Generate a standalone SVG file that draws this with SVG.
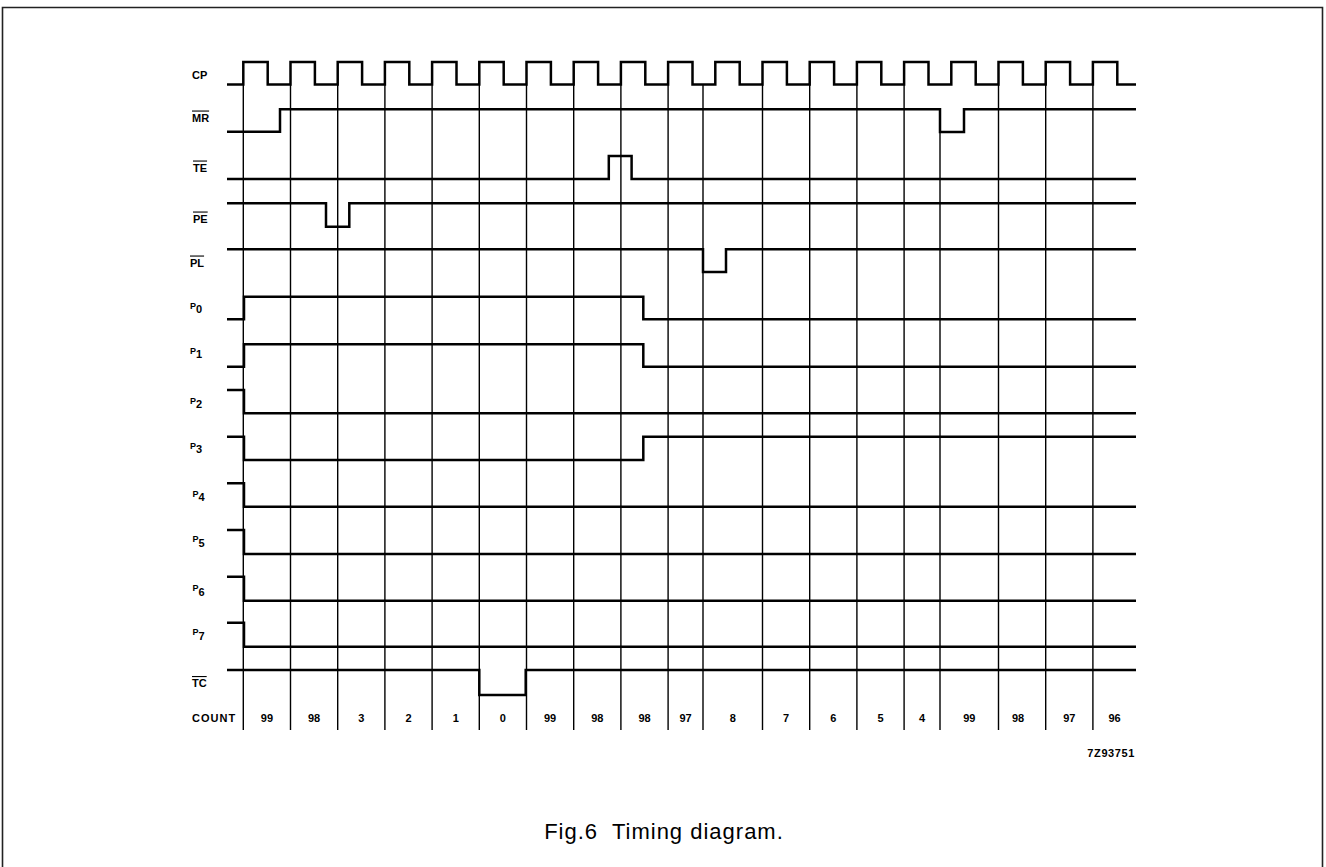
<svg xmlns="http://www.w3.org/2000/svg" width="1326" height="867" viewBox="0 0 1326 867">
<style>
.sig{fill:none;stroke:#000;stroke-width:2.5;stroke-linejoin:miter}
.grid{stroke:#000;stroke-width:1.4}
.lbl{font-family:"Liberation Sans",Arial,sans-serif;font-weight:bold;font-size:11px;fill:#000}
.ov{text-decoration:overline}
.cnt{font-family:"Liberation Sans",Arial,sans-serif;font-weight:bold;font-size:11px;fill:#000;text-anchor:middle}
.ps{font-size:9px}
.cap{font-family:"Liberation Sans",Arial,sans-serif;font-size:22px;fill:#000;text-anchor:middle;letter-spacing:1px}
</style>
<rect x="0" y="0" width="1326" height="867" fill="#fff"/>
<g id="frame"><path d="M2.5,880 V7.5 H1322.5 V880" fill="none" stroke="#222" stroke-width="1.6"/></g>

<g id="grid">
<line class="grid" x1="243.3" y1="85" x2="243.3" y2="730"/>
<line class="grid" x1="290.5" y1="85" x2="290.5" y2="730"/>
<line class="grid" x1="337.7" y1="85" x2="337.7" y2="730"/>
<line class="grid" x1="384.9" y1="85" x2="384.9" y2="730"/>
<line class="grid" x1="432.1" y1="85" x2="432.1" y2="730"/>
<line class="grid" x1="479.3" y1="85" x2="479.3" y2="730"/>
<line class="grid" x1="526.5" y1="85" x2="526.5" y2="730"/>
<line class="grid" x1="573.7" y1="85" x2="573.7" y2="730"/>
<line class="grid" x1="620.9" y1="85" x2="620.9" y2="730"/>
<line class="grid" x1="668.1" y1="85" x2="668.1" y2="730"/>
<line class="grid" x1="703" y1="85" x2="703" y2="730"/>
<line class="grid" x1="762.5" y1="85" x2="762.5" y2="730"/>
<line class="grid" x1="809.7" y1="85" x2="809.7" y2="730"/>
<line class="grid" x1="856.9" y1="85" x2="856.9" y2="730"/>
<line class="grid" x1="904.1" y1="85" x2="904.1" y2="730"/>
<line class="grid" x1="940" y1="109" x2="940" y2="730"/>
<line class="grid" x1="998.5" y1="85" x2="998.5" y2="730"/>
<line class="grid" x1="1045.7" y1="85" x2="1045.7" y2="730"/>
<line class="grid" x1="1092.9" y1="85" x2="1092.9" y2="730"/>
</g>

<g id="CP">
<text class="lbl" x="192" y="78.5">CP</text>
<path class="sig" d="M227,84.5 H243.3 V62 H267.7 V84.5 H290.5 V62 H314.9 V84.5 H337.7 V62 H362.1 V84.5 H384.9 V62 H409.3 V84.5 H432.1 V62 H456.5 V84.5 H479.3 V62 H503.7 V84.5 H526.5 V62 H550.9 V84.5 H573.7 V62 H598.1 V84.5 H620.9 V62 H645.3 V84.5 H668.1 V62 H692.5 V84.5 H715.3 V62 H739.7 V84.5 H762.5 V62 H786.9 V84.5 H809.7 V62 H834.1 V84.5 H856.9 V62 H881.3 V84.5 H904.1 V62 H928.5 V84.5 H951.3 V62 H975.7 V84.5 H998.5 V62 H1022.9 V84.5 H1045.7 V62 H1070.1 V84.5 H1092.9 V62 H1117.3 V84.5 H1136"/>
</g>
<g id="MR">
<text class="lbl ov" x="192" y="121.5">MR</text>
<path class="sig" d="M227,131.7 H280 V109.3 H940 V132 H964 V109.3 H1136"/>
</g>
<g id="TE">
<text class="lbl ov" x="193" y="171.5">TE</text>
<path class="sig" d="M227,179 H608.8 V156 H631.6 V179 H1136"/>
</g>
<g id="PE">
<text class="lbl ov" x="193" y="222.5">PE</text>
<path class="sig" d="M227,203.3 H326 V226.7 H349.3 V203.3 H1136"/>
</g>
<g id="PL">
<text class="lbl ov" x="190" y="266.5">PL</text>
<path class="sig" d="M227,249.3 H703 V272 H726 V249.3 H1136"/>
</g>
<g id="P0">
<text class="lbl" x="190" y="308.5"><tspan class="ps">P</tspan><tspan dy="4.5">0</tspan></text>
<path class="sig" d="M227,319.3 H244 V296.7 H643.3 V319.3 H1136"/>
</g>
<g id="P1">
<text class="lbl" x="190" y="353.5"><tspan class="ps">P</tspan><tspan dy="4.5">1</tspan></text>
<path class="sig" d="M227,366.7 H244 V344.3 H643.3 V366.7 H1136"/>
</g>
<g id="P2">
<text class="lbl" x="190" y="403.5"><tspan class="ps">P</tspan><tspan dy="4.5">2</tspan></text>
<path class="sig" d="M227,390 H244 V413.3 H1136"/>
</g>
<g id="P3">
<text class="lbl" x="190" y="448.5"><tspan class="ps">P</tspan><tspan dy="4.5">3</tspan></text>
<path class="sig" d="M227,436.7 H244 V460 H643.3 V436.7 H1136"/>
</g>
<g id="P4">
<text class="lbl" x="192.5" y="496.5"><tspan class="ps">P</tspan><tspan dy="4.5">4</tspan></text>
<path class="sig" d="M227,483.3 H244 V506.7 H1136"/>
</g>
<g id="P5">
<text class="lbl" x="192.5" y="542"><tspan class="ps">P</tspan><tspan dy="5">5</tspan></text>
<path class="sig" d="M227,530 H244 V554 H1136"/>
</g>
<g id="P6">
<text class="lbl" x="192.5" y="590.5"><tspan class="ps">P</tspan><tspan dy="5">6</tspan></text>
<path class="sig" d="M227,576.7 H244 V600.7 H1136"/>
</g>
<g id="P7">
<text class="lbl" x="192.5" y="635"><tspan class="ps">P</tspan><tspan dy="5">7</tspan></text>
<path class="sig" d="M227,622.7 H244 V646.7 H1136"/>
</g>
<g id="TC">
<text class="lbl ov" x="192" y="687">TC</text>
<path class="sig" d="M227,670 H479.3 V695 H525.7 V670 H1136"/>
</g>

<g id="COUNT">
<text class="lbl" x="192" y="722" letter-spacing="1">COUNT</text>
<text class="cnt" x="266.9" y="722">99</text>
<text class="cnt" x="314.1" y="722">98</text>
<text class="cnt" x="361.3" y="722">3</text>
<text class="cnt" x="408.5" y="722">2</text>
<text class="cnt" x="455.7" y="722">1</text>
<text class="cnt" x="502.9" y="722">0</text>
<text class="cnt" x="550.1" y="722">99</text>
<text class="cnt" x="597.3" y="722">98</text>
<text class="cnt" x="644.5" y="722">98</text>
<text class="cnt" x="685.6" y="722">97</text>
<text class="cnt" x="732.8" y="722">8</text>
<text class="cnt" x="786.1" y="722">7</text>
<text class="cnt" x="833.3" y="722">6</text>
<text class="cnt" x="880.5" y="722">5</text>
<text class="cnt" x="922.1" y="722">4</text>
<text class="cnt" x="969.3" y="722">99</text>
<text class="cnt" x="1018" y="722">98</text>
<text class="cnt" x="1069.3" y="722">97</text>
<text class="cnt" x="1114.5" y="722">96</text>
</g>

<g id="ref"><text class="lbl" x="1135" y="757" text-anchor="end" letter-spacing="0.6">7Z93751</text></g>
<g id="caption"><text class="cap" x="664" y="839" xml:space="preserve">Fig.6  Timing diagram.</text></g>
</svg>
